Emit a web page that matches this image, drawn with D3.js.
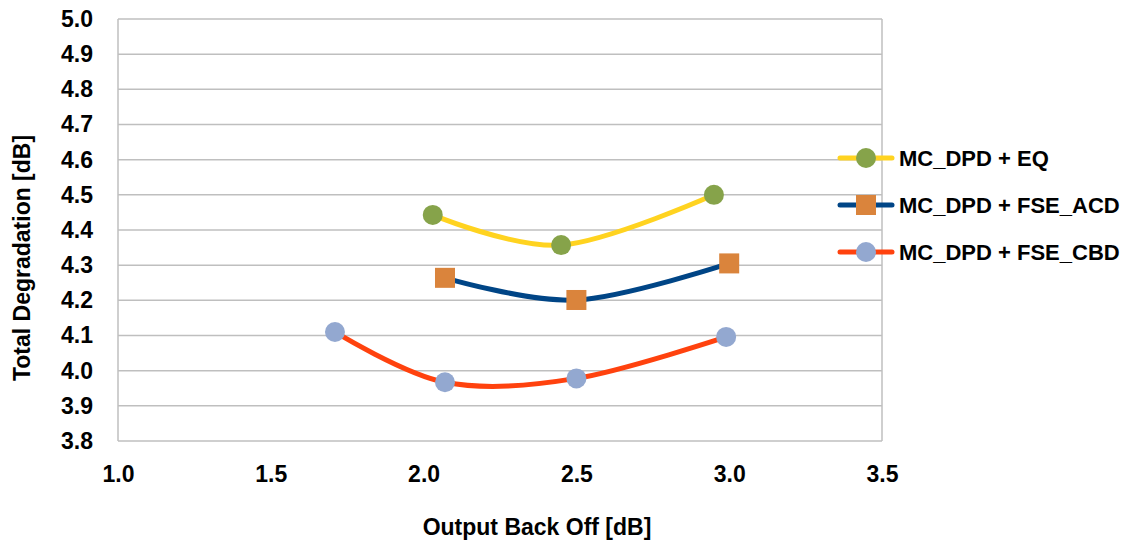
<!DOCTYPE html>
<html>
<head>
<meta charset="utf-8">
<script src="https://cdn.jsdelivr.net/npm/d3@7"></script>
<style>
  html, body { margin: 0; padding: 0; background: #ffffff; }
  svg { display: block; }
  text { font-family: "Liberation Sans", Arial, sans-serif; font-weight: bold; fill: #000; }
</style>
</head>
<body>
<svg id="chart" width="1125" height="543"></svg>
<script>
// Series: output back-off [dB] vs total degradation [dB]
const seriesNames = ["MC_DPD + EQ", "MC_DPD + FSE_ACD", "MC_DPD + FSE_CBD"];
const eqX  = [2.03, 2.45, 2.95];
const eqY  = [4.443, 4.357, 4.500];
const acdX = [2.07, 2.50, 3.00];
const acdY = [4.264, 4.201, 4.305];
const cbdX = [1.71, 2.07, 2.50, 2.99];
const cbdY = [4.110, 3.967, 3.978, 4.096];

const xTicks = [1.0, 1.5, 2.0, 2.5, 3.0, 3.5];
const yTicks = [3.8, 3.9, 4.0, 4.1, 4.2, 4.3, 4.4, 4.5, 4.6, 4.7, 4.8, 4.9, 5.0];

const series = [
  { name: seriesNames[0], xs: eqX,  ys: eqY,  line: "#FFD320", fill: "#86A34A", shape: "circle" },
  { name: seriesNames[1], xs: acdX, ys: acdY, line: "#004586", fill: "#DA843C", shape: "square" },
  { name: seriesNames[2], xs: cbdX, ys: cbdY, line: "#FF420E", fill: "#93A8D0", shape: "circle" }
];

const plot = { left: 118, right: 882, top: 19, bottom: 441 };
const svg = d3.select("#chart");

const x = d3.scaleLinear().domain([1.0, 3.5]).range([plot.left, plot.right]);
const y = d3.scaleLinear().domain([3.8, 5.0]).range([plot.bottom, plot.top]);

const gridColor = "#BFBFBF";
const fontSize = 23;

// horizontal gridlines
svg.append("g")
  .selectAll("line")
  .data(yTicks)
  .join("line")
  .attr("x1", plot.left).attr("x2", plot.right)
  .attr("y1", d => y(d)).attr("y2", d => y(d))
  .attr("stroke", gridColor).attr("stroke-width", 1.5);

// left and right frame edges
svg.append("g")
  .selectAll("line")
  .data([1.0, 3.5])
  .join("line")
  .attr("x1", d => x(d)).attr("x2", d => x(d))
  .attr("y1", plot.top).attr("y2", plot.bottom)
  .attr("stroke", gridColor).attr("stroke-width", 1.5);

// y axis tick labels
const yAxis = d3.axisLeft(y).tickValues(yTicks).tickFormat(d3.format(".1f")).tickSize(0).tickPadding(25);
svg.append("g")
  .attr("transform", `translate(${plot.left},0)`)
  .call(yAxis)
  .call(g => g.select(".domain").remove())
  .call(g => g.selectAll("text")
    .attr("font-size", fontSize)
    .attr("font-family", "Liberation Sans, Arial, sans-serif")
    .attr("font-weight", "bold")
    .attr("fill", "#000"));

// x axis tick labels
const xAxis = d3.axisBottom(x).tickValues(xTicks).tickFormat(d3.format(".1f")).tickSize(0).tickPadding(25);
svg.append("g")
  .attr("transform", `translate(0,${plot.bottom})`)
  .call(xAxis)
  .call(g => g.select(".domain").remove())
  .call(g => g.selectAll("text")
    .attr("font-size", fontSize)
    .attr("font-family", "Liberation Sans, Arial, sans-serif")
    .attr("font-weight", "bold")
    .attr("fill", "#000"));

// axis titles
svg.append("text")
  .attr("x", 537).attr("y", 527)
  .attr("text-anchor", "middle").attr("dominant-baseline", "central")
  .attr("font-size", fontSize)
  .text("Output Back Off [dB]");

svg.append("text")
  .attr("transform", "translate(22,258) rotate(-90)")
  .attr("text-anchor", "middle").attr("dominant-baseline", "central")
  .attr("font-size", fontSize)
  .text("Total Degradation [dB]");

// smoothed lines
const lineGen = d3.line()
  .x(d => x(d[0])).y(d => y(d[1]))
  .curve(d3.curveCardinal.tension(0));

const marks = svg.append("g");
series.forEach(s => {
  const pts = s.xs.map((v, i) => [v, s.ys[i]]);
  marks.append("path")
    .datum(pts)
    .attr("d", lineGen)
    .attr("fill", "none")
    .attr("stroke", s.line)
    .attr("stroke-width", 5)
    .attr("stroke-linecap", "round");
});

function drawMarker(g, s, cx, cy) {
  if (s.shape === "circle") {
    g.append("circle").attr("cx", cx).attr("cy", cy).attr("r", 10).attr("fill", s.fill);
  } else {
    g.append("rect").attr("x", cx - 10).attr("y", cy - 10).attr("width", 20).attr("height", 20).attr("fill", s.fill);
  }
}

series.forEach(s => {
  s.xs.forEach((v, i) => drawMarker(marks, s, x(v), y(s.ys[i])));
});

// legend
const legend = svg.append("g");
const legendY = [158, 205, 252];
series.forEach((s, i) => {
  const gy = legendY[i];
  legend.append("line")
    .attr("x1", 840).attr("x2", 892)
    .attr("y1", gy).attr("y2", gy)
    .attr("stroke", s.line).attr("stroke-width", 5).attr("stroke-linecap", "round");
  drawMarker(legend, s, 866, gy);
  legend.append("text")
    .attr("x", 899).attr("y", gy)
    .attr("dominant-baseline", "central")
    .attr("font-size", 22)
    .text(s.name);
});
</script>
</body>
</html>
